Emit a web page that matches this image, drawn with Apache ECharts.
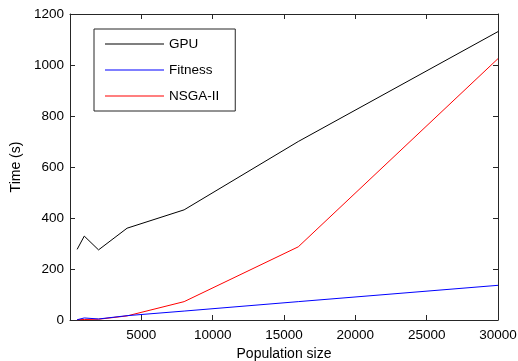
<!DOCTYPE html>
<html>
<head>
<meta charset="utf-8">
<script src="https://cdn.jsdelivr.net/npm/echarts@6/dist/echarts.min.js"></script>
<style>
html, body { margin: 0; padding: 0; background: #fff; }
#chart { width: 518px; height: 361px; }
</style>
</head>
<body>
<div id="chart"></div>
<script>
// Run time versus population size
const populationSizes = [500, 1000, 2000, 4000, 8000, 16000, 30000];
const gpuTimes      = [277, 329, 275, 360, 432, 700, 1131];
const fitnessTimes  = [1, 8, 4, 17, 35, 72, 136];
const nsgaTimes     = [1, 2, 3, 16, 72, 287, 1025];
const seriesNames   = ['GPU', 'Fitness', 'NSGA-II'];
const seriesColors  = ['#000000', '#0000ff', '#ff0000'];

const font = 'Liberation Sans, Arial, sans-serif';
const axisColor = '#262626';
const plain = (v) => String(v);

function pairs(ys) { return populationSizes.map((x, i) => [x, ys[i]]); }

const chart = echarts.init(document.getElementById('chart'), null, { renderer: 'canvas' });

const boxAxis = (extra) => Object.assign({
  type: 'value',
  axisLine: { show: true, onZero: false, lineStyle: { color: axisColor, width: 1 } },
  axisTick: { show: true, inside: true, length: 5, lineStyle: { color: axisColor } },
  splitLine: { show: false },
  axisLabel: { color: '#000', fontFamily: font, fontSize: 13.5, formatter: plain }
}, extra);

chart.setOption({
  animation: false,
  backgroundColor: '#fff',
  grid: { left: 70, right: 20, top: 14, bottom: 41, containLabel: false, outerBoundsMode: 'none' },
  xAxis: [
    boxAxis({
      min: 0, max: 30000, interval: 5000, position: 'bottom',
      name: 'Population size', nameLocation: 'middle', nameGap: 26,
      nameTextStyle: { color: '#000', fontFamily: font, fontSize: 14 },
      axisLabel: { color: '#000', fontFamily: font, fontSize: 13.5, showMinLabel: false, margin: 8, formatter: plain }
    }),
    boxAxis({
      min: 0, max: 30000, interval: 5000, position: 'top',
      axisLabel: { show: false }
    })
  ],
  yAxis: [
    boxAxis({
      min: 0, max: 1200, interval: 200, position: 'left',
      name: 'Time (s)', nameLocation: 'middle', nameGap: 42, nameRotate: 90,
      nameTextStyle: { color: '#000', fontFamily: font, fontSize: 14 },
      axisLabel: { color: '#000', fontFamily: font, fontSize: 13.5, margin: 6, formatter: plain }
    }),
    boxAxis({
      min: 0, max: 1200, interval: 200, position: 'right',
      axisLabel: { show: false }
    })
  ],
  legend: {
    orient: 'vertical',
    left: 94, top: 29,
    width: 141,
    padding: [8, 16, 8, 11],
    borderColor: axisColor, borderWidth: 1,
    backgroundColor: '#fff',
    itemWidth: 59, itemHeight: 1, itemGap: 12,
    icon: 'rect',
    textStyle: { color: '#000', fontFamily: font, fontSize: 13.5, lineHeight: 14 },
    data: seriesNames
  },
  series: [gpuTimes, fitnessTimes, nsgaTimes].map((ys, i) => ({
    name: seriesNames[i],
    type: 'line',
    data: pairs(ys),
    showSymbol: false,
    symbol: 'none',
    color: seriesColors[i],
    lineStyle: { color: seriesColors[i], width: 1 },
    z: 3 - i
  }))
});
</script>
</body>
</html>
